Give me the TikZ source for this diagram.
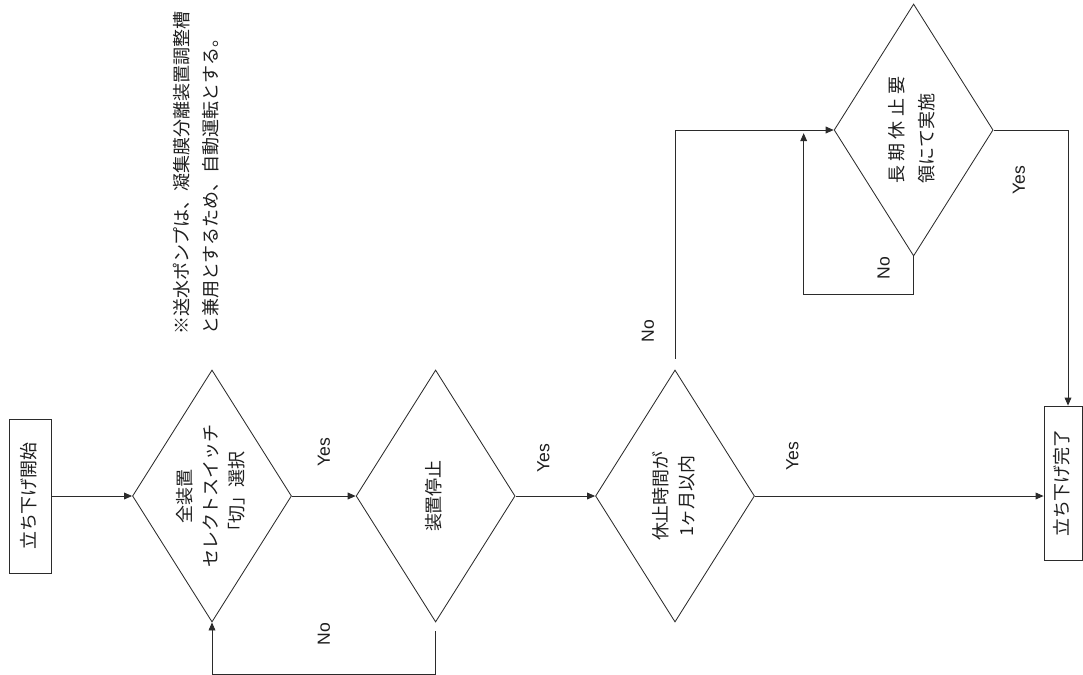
\documentclass[tikz,border=0pt]{standalone}
\usepackage{fontspec}
\setmainfont{Noto Sans CJK JP}
\newfontfamily\latinfont{Liberation Sans}
\usepackage{graphicx}
\usepackage{xcolor}
\definecolor{lineGray}{HTML}{2B2B2B}
\definecolor{inkText}{HTML}{1E1E1E}
\usepackage{tikz}
\usetikzlibrary{
    shapes.geometric,
    arrows.meta
}
\tikzset{
    % Base style for all nodes
    chart base/.style={
        font=\fontsize{12.8pt}{18.5pt}\selectfont,
        text=inkText,
        draw=lineGray,
        line width=0.6pt,
        inner sep=0pt,
    },
    % Start/Stop boxes - tall narrow rectangles
    startstop/.style={
        chart base,
        rectangle,
        minimum width=1.05cm,
        minimum height=3.85cm,
    },
    % Decision diamonds
    decision/.style={
        chart base,
        diamond,
        aspect=0.63,
        minimum width=3.975cm,
        minimum height=6.3cm,
    },
    % Connector arrows
    arrow/.style={
        -{Triangle[length=2mm, width=1.7mm]},
        line width=0.6pt,
        draw=lineGray,
    },
    % Label style for Yes/No
    edge label/.style={
        font=\latinfont\fontsize{12.5pt}{15pt}\selectfont,
        text=inkText,
        inner sep=0pt,
    },
    % Free note above the chart
    note/.style={
        font=\fontsize{12.8pt}{21.3pt}\selectfont,
        text=inkText,
        inner sep=0pt,
    },
}
% text turned a quarter turn, lines read bottom to top;
% the box takes no room so the shapes keep their set size
\newcommand{\rotlines}[2]{\makebox[0pt]{\raisebox{-0.5\height}[0pt][0pt]{%
    \rotatebox{90}{\begin{tabular}{@{}#1@{}}#2\end{tabular}}}}}

\begin{document}
\begin{tikzpicture}
    \useasboundingbox (0,0) rectangle (27.075,-16.85);

    \node (start) [startstop] at (0.75,-12.4) {\rotlines{c}{立ち下げ開始}};
    \node (select) [decision] at (5.3,-12.4) {\rotlines{c}{全装置\\セレクトスイッチ\\「切」選択}};
    \node (halt) [decision] at (10.89,-12.4) {\rotlines{c}{装置停止}};
    \node (period) [decision] at (16.875,-12.4) {\rotlines{c}{休止時間が\hspace{1.1cm}\\1ヶ月以内\hspace{1.1cm}}};
    \node (longstop) [decision] at (22.84,-3.25) {\rotlines{l}{長 期 休 止 要\\[0.1cm]領にて実施}};
    \node (finish) [startstop, minimum width=0.95cm] at (26.575,-12.075) {\rotlines{c}{立ち下げ完了}};
    \node (memo) [note] at (4.925,-4.325) {\rotlines{l}{※送水ポンプは、凝集膜分離装置調整槽\\と兼用とするため、自動運転とする。}};

    \draw [arrow] (start) -- (select);
    \draw [arrow] (select) -- node[edge label, midway, yshift=1.1cm] {\rotatebox{90}{Yes}} (halt);
    \draw [arrow] (halt) -- node[edge label, pos=0.35, yshift=0.95cm] {\rotatebox{90}{Yes}} (period);
    \draw [arrow] (period.east) -- node[edge label, pos=0.13, yshift=1.0cm] {\rotatebox{90}{Yes}} (period.east -| finish.west);
    \draw [arrow, shorten <=0.22cm] (halt.south) -- ++(0,-1.3)
        -| node[edge label, pos=0.25, yshift=1.0cm] {\rotatebox{90}{No}} (select.south);
    \draw [arrow, shorten <=0.27cm] (period.north)
        |- node[edge label, pos=0.08, xshift=-0.68cm] {\rotatebox{90}{No}} (longstop.west);
    \draw [arrow, shorten >=0.08cm] (longstop.south)
        -- node[edge label, pos=0.3, xshift=-0.75cm] {\rotatebox{90}{No}} ++(0,-0.95)
        -| ([xshift=-0.75cm]longstop.west);
    \draw [arrow] (longstop.east)
        -| node[edge label, pos=0.17, yshift=-1.25cm] {\rotatebox{90}{Yes}} ([xshift=0.125cm]finish.north);
\end{tikzpicture}
\end{document}
